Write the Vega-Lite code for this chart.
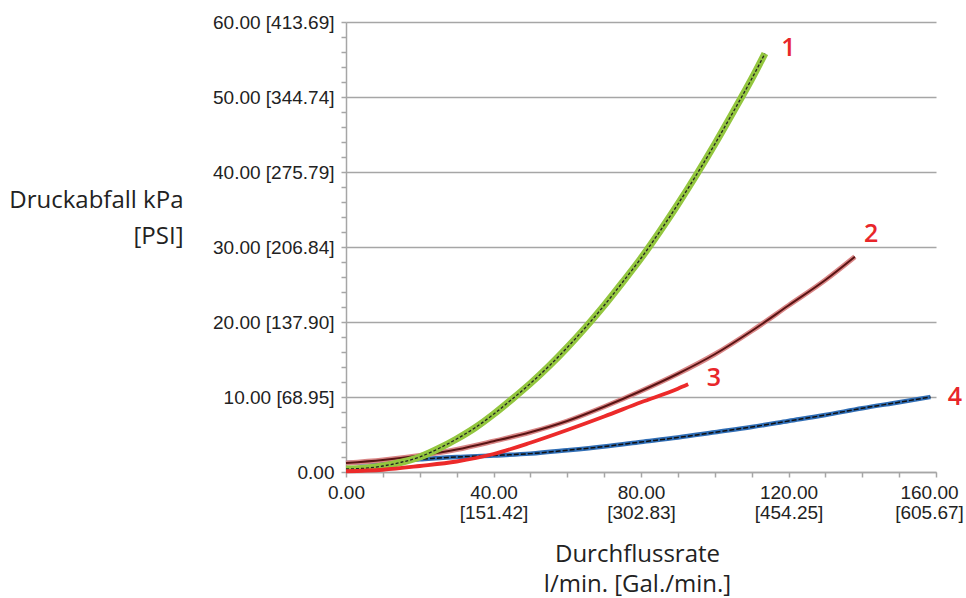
{
  "$schema": "https://vega.github.io/schema/vega-lite/v6.json",
  "width": 590,
  "height": 450,
  "autosize": "none",
  "padding": {"left": 346, "top": 22, "right": 30, "bottom": 126},
  "background": "white",
  "config": {"view": {"stroke": null}},
  "datasets": {
    "curves": [
      {"s": "1", "x": 0, "y": 0.4}, {"s": "1", "x": 5, "y": 0.5}, {"s": "1", "x": 10, "y": 0.8}, {"s": "1", "x": 15, "y": 1.3},
      {"s": "1", "x": 20, "y": 2.0}, {"s": "1", "x": 25, "y": 3.1}, {"s": "1", "x": 30, "y": 4.4}, {"s": "1", "x": 35, "y": 5.9},
      {"s": "1", "x": 40, "y": 7.7}, {"s": "1", "x": 45, "y": 9.7}, {"s": "1", "x": 50, "y": 11.8}, {"s": "1", "x": 55, "y": 14.1},
      {"s": "1", "x": 60, "y": 16.6}, {"s": "1", "x": 65, "y": 19.3}, {"s": "1", "x": 70, "y": 22.2}, {"s": "1", "x": 75, "y": 25.3},
      {"s": "1", "x": 80, "y": 28.5}, {"s": "1", "x": 85, "y": 32.0}, {"s": "1", "x": 90, "y": 35.7}, {"s": "1", "x": 95, "y": 39.6},
      {"s": "1", "x": 100, "y": 43.7}, {"s": "1", "x": 105, "y": 48.0}, {"s": "1", "x": 110, "y": 52.4}, {"s": "1", "x": 113.6, "y": 55.8},
      {"s": "2", "x": 0, "y": 1.2}, {"s": "2", "x": 10, "y": 1.6}, {"s": "2", "x": 20, "y": 2.2}, {"s": "2", "x": 30, "y": 3.0},
      {"s": "2", "x": 40, "y": 4.1}, {"s": "2", "x": 50, "y": 5.3}, {"s": "2", "x": 60, "y": 6.8}, {"s": "2", "x": 70, "y": 8.7},
      {"s": "2", "x": 80, "y": 10.8}, {"s": "2", "x": 90, "y": 13.1}, {"s": "2", "x": 100, "y": 15.7}, {"s": "2", "x": 110, "y": 18.8},
      {"s": "2", "x": 120, "y": 22.2}, {"s": "2", "x": 130, "y": 25.6}, {"s": "2", "x": 138, "y": 28.7},
      {"s": "3", "x": 0, "y": 0.1}, {"s": "3", "x": 10, "y": 0.3}, {"s": "3", "x": 20, "y": 0.8}, {"s": "3", "x": 30, "y": 1.4},
      {"s": "3", "x": 40, "y": 2.4}, {"s": "3", "x": 50, "y": 3.9}, {"s": "3", "x": 60, "y": 5.6}, {"s": "3", "x": 70, "y": 7.4},
      {"s": "3", "x": 80, "y": 9.3}, {"s": "3", "x": 90, "y": 11.1}, {"s": "3", "x": 92.8, "y": 11.7},
      {"s": "4", "x": 0, "y": 1.2}, {"s": "4", "x": 10, "y": 1.4}, {"s": "4", "x": 20, "y": 1.7}, {"s": "4", "x": 30, "y": 2.0},
      {"s": "4", "x": 40, "y": 2.2}, {"s": "4", "x": 50, "y": 2.45}, {"s": "4", "x": 60, "y": 2.9}, {"s": "4", "x": 70, "y": 3.4},
      {"s": "4", "x": 80, "y": 4.0}, {"s": "4", "x": 90, "y": 4.6}, {"s": "4", "x": 100, "y": 5.3}, {"s": "4", "x": 110, "y": 6.0},
      {"s": "4", "x": 120, "y": 6.8}, {"s": "4", "x": 130, "y": 7.6}, {"s": "4", "x": 140, "y": 8.5}, {"s": "4", "x": 150, "y": 9.3},
      {"s": "4", "x": 158.5, "y": 10.0}
    ],
    "labels": [
      {"t": "1", "x": 120, "y": 56.6},
      {"t": "2", "x": 142.4, "y": 31.8},
      {"t": "3", "x": 99.8, "y": 12.5},
      {"t": "4", "x": 165.1, "y": 10.0}
    ]
  },
  "layer": [
    {
      "data": {"name": "curves"},
      "mark": {"type": "point", "opacity": 0},
      "encoding": {
        "x": {
          "field": "x", "type": "quantitative",
          "scale": {"domain": [0, 160], "nice": false, "zero": false},
          "axis": {
            "values": [0, 10, 20, 30, 40, 50, 60, 70, 80, 90, 100, 110, 120, 130, 140, 150, 160],
            "tickCount": 200,
            "labelExpr": "datum.value % 40 === 0 ? (datum.value === 0 ? '0.00' : [format(datum.value, '.2f'), '[' + format(datum.value * 3.785412, '.2f') + ']']) : ''",
            "labelOverlap": false,
            "labelFlush": false,
            "labelOffset": {"condition": {"test": "datum.value === 160", "value": -7}, "value": 0},
            "labelFont": "Liberation Sans",
            "labelFontSize": 19,
            "labelColor": "#222222",
            "labelPadding": 6,
            "labelLineHeight": 20,
            "labelBaseline": "top",
            "grid": false,
            "tickColor": "#a6a6a6",
            "tickSize": 5,
            "tickWidth": 1.5,
            "domainColor": "#a6a6a6",
            "domainWidth": 1.5,
            "title": ["Durchflussrate", "l/min. [Gal./min.]"],
            "titleFont": "Open Sans",
            "titleFontSize": 24,
            "titleFontWeight": "normal",
            "titleColor": "#222222",
            "titleLineHeight": 30,
            "titleBaseline": "top",
            "titleX": 291,
            "titleY": 70
          }
        },
        "y": {
          "field": "y", "type": "quantitative",
          "scale": {"domain": [0, 60], "nice": false, "zero": false},
          "axis": {
            "values": [0, 2, 4, 6, 8, 10, 12, 14, 16, 18, 20, 22, 24, 26, 28, 30, 32, 34, 36, 38, 40, 42, 44, 46, 48, 50, 52, 54, 56, 58, 60],
            "tickCount": 200,
            "labelExpr": "datum.value % 10 === 0 ? (datum.value === 0 ? '0.00' : format(datum.value, '.2f') + ' [' + format(datum.value * 6.894757, '.2f') + ']') : ''",
            "labelOverlap": false,
            "labelFlush": false,
            "labelFont": "Liberation Sans",
            "labelFontSize": 19,
            "labelColor": "#222222",
            "labelPadding": 7,
            "grid": true,
            "gridColor": "#a6a6a6",
            "gridWidth": 1.6,
            "gridOpacity": {"condition": {"test": "datum.value % 10 === 0", "value": 1}, "value": 0},
            "tickColor": "#a6a6a6",
            "tickSize": 5,
            "tickWidth": 1.5,
            "domainColor": "#a6a6a6",
            "domainWidth": 1.5,
            "title": ["Druckabfall kPa", "[PSI]"],
            "titleFont": "Open Sans",
            "titleFontSize": 24,
            "titleFontWeight": "normal",
            "titleColor": "#222222",
            "titleAngle": 0,
            "titleAlign": "right",
            "titleBaseline": "top",
            "titleLineHeight": 36,
            "titleX": -163,
            "titleY": 166
          }
        }
      }
    },
    {
      "data": {"name": "curves"},
      "transform": [{"filter": "datum.s === '4'"}],
      "mark": {"type": "line", "interpolate": "monotone", "color": "#2f6db5", "strokeWidth": 4.5},
      "encoding": {"x": {"field": "x", "type": "quantitative"}, "y": {"field": "y", "type": "quantitative"}}
    },
    {
      "data": {"name": "curves"},
      "transform": [{"filter": "datum.s === '4'"}],
      "mark": {"type": "line", "interpolate": "monotone", "color": "#111111", "strokeWidth": 1.5, "strokeDash": [5, 2]},
      "encoding": {"x": {"field": "x", "type": "quantitative"}, "y": {"field": "y", "type": "quantitative"}}
    },
    {
      "data": {"name": "curves"},
      "transform": [{"filter": "datum.s === '2'"}],
      "mark": {"type": "line", "interpolate": "monotone", "color": "#d98686", "strokeWidth": 5},
      "encoding": {"x": {"field": "x", "type": "quantitative"}, "y": {"field": "y", "type": "quantitative"}}
    },
    {
      "data": {"name": "curves"},
      "transform": [{"filter": "datum.s === '2'"}],
      "mark": {"type": "line", "interpolate": "monotone", "color": "#5a1414", "strokeWidth": 2},
      "encoding": {"x": {"field": "x", "type": "quantitative"}, "y": {"field": "y", "type": "quantitative"}}
    },
    {
      "data": {"name": "curves"},
      "transform": [{"filter": "datum.s === '1'"}],
      "mark": {"type": "line", "interpolate": "monotone", "color": "#93c63e", "strokeWidth": 7},
      "encoding": {"x": {"field": "x", "type": "quantitative"}, "y": {"field": "y", "type": "quantitative"}}
    },
    {
      "data": {"name": "curves"},
      "transform": [{"filter": "datum.s === '1'"}],
      "mark": {"type": "line", "interpolate": "monotone", "color": "#222222", "strokeWidth": 1.3, "strokeDash": [3, 2]},
      "encoding": {"x": {"field": "x", "type": "quantitative"}, "y": {"field": "y", "type": "quantitative"}}
    },
    {
      "data": {"name": "curves"},
      "transform": [{"filter": "datum.s === '3'"}],
      "mark": {"type": "line", "interpolate": "monotone", "color": "#ec2a2a", "strokeWidth": 3.8},
      "encoding": {"x": {"field": "x", "type": "quantitative"}, "y": {"field": "y", "type": "quantitative"}}
    },
    {
      "data": {"name": "labels"},
      "mark": {"type": "text", "font": "Open Sans", "fontSize": 25, "fontWeight": 600, "color": "#e8262a", "align": "center", "baseline": "middle", "clip": false},
      "encoding": {
        "x": {"field": "x", "type": "quantitative"},
        "y": {"field": "y", "type": "quantitative"},
        "text": {"field": "t", "type": "nominal"}
      }
    }
  ]
}
